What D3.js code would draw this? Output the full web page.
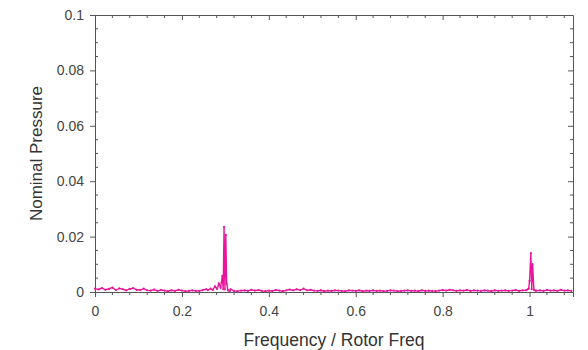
<!DOCTYPE html>
<html>
<head>
<meta charset="utf-8">
<script src="https://cdn.jsdelivr.net/npm/d3@7"></script>
<style>
  body { margin: 0; background: #fff; }
  text { font-family: "Liberation Sans", Arial, sans-serif; fill: #333; }
</style>
</head>
<body>
<div id="chart"></div>
<script>
// baseline noise, sampled every 0.008 starting at 0
const baseStep = 0.008;
const baseValues = [
  0.0012,0.0009,0.0014,0.0008,0.0011,0.0016,0.0007,0.0013,0.0010,0.0006,
  0.0011,0.0014,0.0008,0.0007,0.0012,0.0006,0.0005,0.0009,0.0004,0.0007,
  0.0005,0.0003,0.0006,0.0004,0.0008,0.0005,0.0003,0.0004,0.0006,0.0004,
  0.0004,0.0007,0.0010,0.0009,0.0015,0.0020,0.0030,0.0040,0.0030,0.0010,
  0.0004,0.0003,0.0005,0.0006,0.0004,0.0008,0.0005,0.0007,0.0004,0.0003,
  0.0005,0.0004,0.0007,0.0005,0.0003,0.0006,0.0009,0.0006,0.0010,0.0007,
  0.0012,0.0006,0.0008,0.0005,0.0004,0.0006,0.0003,0.0005,0.0004,0.0006,
  0.0005,0.0004,0.0003,0.0006,0.0005,0.0004,0.0006,0.0003,0.0005,0.0004,
  0.0006,0.0004,0.0005,0.0003,0.0004,0.0006,0.0005,0.0003,0.0004,0.0005,
  0.0006,0.0004,0.0005,0.0003,0.0006,0.0004,0.0005,0.0004,0.0003,0.0005,
  0.0007,0.0005,0.0008,0.0006,0.0004,0.0006,0.0005,0.0007,0.0004,0.0006,
  0.0005,0.0004,0.0006,0.0005,0.0003,0.0006,0.0004,0.0005,0.0006,0.0004,
  0.0005,0.0007,0.0004,0.0006,0.0005,0.0005,0.0005,0.0005,0.0006,0.0004,
  0.0007,0.0005,0.0006,0.0004,0.0008,0.0005,0.0006,0.0004
];

// peak near 0.3 rotor freq
const peakAFreq = [0.260,0.266,0.271,0.276,0.281,0.285,0.289,0.293,0.295,0.297,0.299,0.301,0.303,0.306,0.310];
const peakAValues = [0.0007,0.0012,0.0008,0.0020,0.0011,0.0030,0.0016,0.0058,0.0010,0.0235,0.0009,0.0206,0.0030,0.0006,0.0004];

// peak at 1x rotor freq
const peakBFreq = [0.992,0.995,0.998,1.000,1.003,1.005,1.007,1.010,1.013];
const peakBValues = [0.0006,0.0009,0.0012,0.0040,0.0140,0.0010,0.0101,0.0008,0.0005];

const xTicks = [0, 0.2, 0.4, 0.6, 0.8, 1];
const yTicks = [0, 0.02, 0.04, 0.06, 0.08, 0.1];

const margin = { top: 15, right: 15, bottom: 58, left: 95 };
const width = 588 - margin.left - margin.right;
const height = 350 - margin.top - margin.bottom;

// merge everything into one sorted series
let data = baseValues.map((v, i) => ({ f: i * baseStep, v: v }))
  .filter(d => !(d.f > 0.257 && d.f < 0.312) && !(d.f > 0.989 && d.f < 1.015));
peakAFreq.forEach((f, i) => data.push({ f: f, v: peakAValues[i] }));
peakBFreq.forEach((f, i) => data.push({ f: f, v: peakBValues[i] }));
data.sort((a, b) => a.f - b.f);

const svg = d3.select("#chart")
  .append("svg")
  .attr("width", 588)
  .attr("height", 350)
  .append("g")
  .attr("transform", "translate(" + margin.left + "," + margin.top + ")");

const x = d3.scaleLinear().domain([0, 1.1]).range([0, width]);
const y = d3.scaleLinear().domain([0, 0.1]).range([height, 0]);

const axisColor = "#555";
const fmt = d => d === 0 ? "0" : d3.format("~g")(d);

// minor ticks
const xMinor = d3.range(0, 1.1001, 0.04).filter(t => xTicks.every(m => Math.abs(m - t) > 1e-6));
const yMinor = d3.range(0, 0.1001, 0.005).filter(t => yTicks.every(m => Math.abs(m - t) > 1e-6));

// bottom axis (ticks outward)
const gx = svg.append("g")
  .attr("transform", "translate(0," + height + ")")
  .call(d3.axisBottom(x).tickValues(xTicks).tickFormat(fmt).tickSize(5).tickPadding(9));
gx.append("g").selectAll("line").data(xMinor).enter().append("line")
  .attr("x1", d => x(d)).attr("x2", d => x(d)).attr("y1", 0).attr("y2", 3)
  .attr("stroke", axisColor);

// left axis (major outward, minor inward)
const gy = svg.append("g")
  .call(d3.axisLeft(y).tickValues(yTicks).tickFormat(fmt).tickSize(5).tickPadding(6));
gy.append("g").selectAll("line").data(yMinor).enter().append("line")
  .attr("x1", 0).attr("x2", 3).attr("y1", d => y(d)).attr("y2", d => y(d))
  .attr("stroke", axisColor);

// top axis (inward)
const gt = svg.append("g")
  .call(d3.axisTop(x).tickValues(xTicks).tickFormat("").tickSizeInner(-5).tickSizeOuter(0));
gt.append("g").selectAll("line").data(xMinor).enter().append("line")
  .attr("x1", d => x(d)).attr("x2", d => x(d)).attr("y1", 0).attr("y2", 3)
  .attr("stroke", axisColor);

// right axis (inward)
const gr = svg.append("g")
  .attr("transform", "translate(" + width + ",0)")
  .call(d3.axisRight(y).tickValues(yTicks).tickFormat("").tickSizeInner(-5).tickSizeOuter(0));
gr.append("g").selectAll("line").data(yMinor).enter().append("line")
  .attr("x1", 0).attr("x2", -3).attr("y1", d => y(d)).attr("y2", d => y(d))
  .attr("stroke", axisColor);

svg.selectAll(".domain").attr("stroke", axisColor);
svg.selectAll(".tick line").attr("stroke", axisColor);
svg.selectAll(".tick text").style("font-size", "14px").style("fill", "#444");

// spectrum line
const line = d3.line().x(d => x(d.f)).y(d => y(d.v));
svg.append("path")
  .datum(data)
  .attr("fill", "none")
  .attr("stroke", "#e8159c")
  .attr("stroke-width", 1.4)
  .attr("d", line);

svg.selectAll("mydot")
  .data(data)
  .enter()
  .append("circle")
  .attr("cx", d => x(d.f))
  .attr("cy", d => y(d.v))
  .attr("r", 1.1)
  .attr("fill", "#e8159c");

// axis labels
svg.append("text")
  .attr("transform", "translate(" + (width / 2) + " ," + (height + 54) + ")")
  .style("text-anchor", "middle")
  .style("font-size", "17.5px")
  .text("Frequency / Rotor Freq");

svg.append("text")
  .attr("transform", "rotate(-90)")
  .attr("y", 0 - margin.left)
  .attr("x", 0 - (height / 2))
  .attr("dy", "2.45em")
  .style("font-size", "17px")
  .style("text-anchor", "middle")
  .text("Nominal Pressure");
</script>
</body>
</html>
